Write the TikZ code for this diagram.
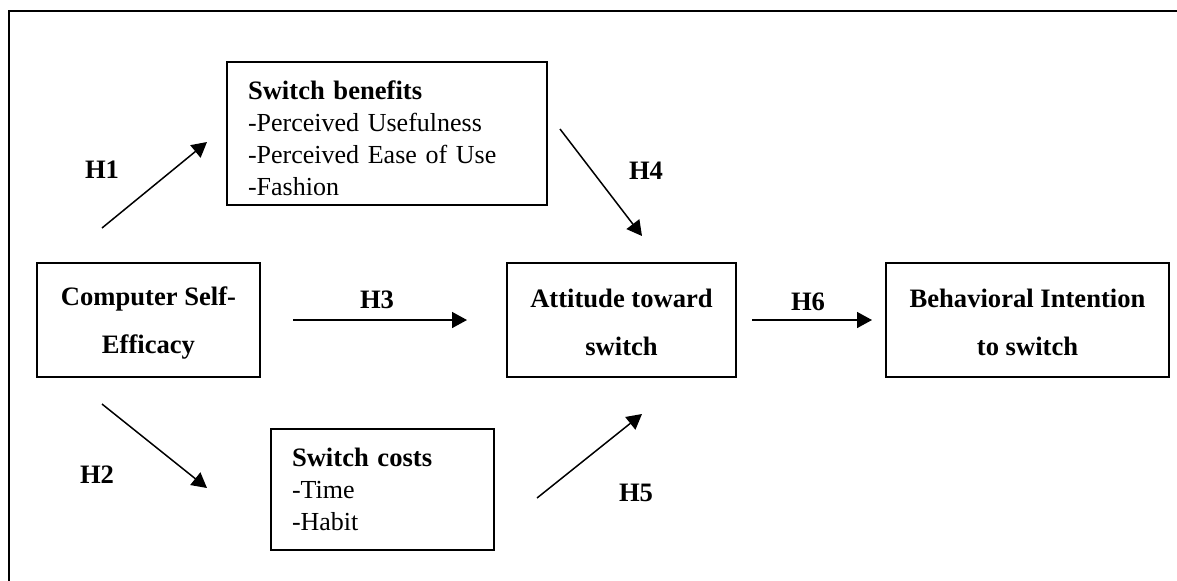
\documentclass[tikz,border=0pt]{standalone}
\usepackage{fontspec}
\setmainfont{Liberation Serif}
\usetikzlibrary{arrows.meta}
\tikzset{
  box/.style={draw, line width=0.75pt, inner sep=0pt, font=\fontsize{13.3}{24}\selectfont\bfseries, align=center},
  listbox/.style={draw, line width=0.75pt, inner xsep=10.5pt, inner ysep=0pt, font=\fontsize{13}{16}\selectfont, align=left},
  hyp/.style={font=\fontsize{13.3}{16}\selectfont\bfseries, inner sep=0pt},
  arr/.style={line width=0.75pt, -{Triangle[length=7.5pt,width=8pt]}}
}
\begin{document}
\begin{tikzpicture}[x=0.5pt,y=-0.5pt]
\useasboundingbox (0,0) rectangle (1177,580);
\draw[line width=1pt] (9,600) |- (1200,11);
% boxes
\node[listbox, text width=139pt, minimum height=71.5pt] (sb) at (387,133.5)
  {\rule{0pt}{14pt}\textbf{\fontsize{13.3}{16}\selectfont Switch benefits}\\-Perceived Usefulness\\-Perceived Ease of Use\\-Fashion};
\node[box, minimum width=111.5pt, minimum height=57pt] (cse) at (148.5,320) {\rule{0pt}{12pt}Computer Self-\\Efficacy};
\node[box, minimum width=114.5pt, minimum height=57pt] (att) at (621.5,320) {\rule{0pt}{12pt}Attitude toward\\switch};
\node[box, minimum width=141.5pt, minimum height=57pt] (bi) at (1027.5,320) {\rule{0pt}{12pt}Behavioral Intention\\to switch};
\node[listbox, text width=90.5pt, minimum height=60.5pt] (sc) at (382.5,489.5)
  {\textbf{\fontsize{13.3}{16}\selectfont Switch costs}\\-Time\\-Habit};
% arrow end points
\coordinate (h1s) at (102,228); \coordinate (h1e) at (207,142);
\coordinate (h2s) at (102,404); \coordinate (h2e) at (207,488);
\coordinate (h3s) at (293,320); \coordinate (h3e) at (467,320);
\coordinate (h4s) at (560,129); \coordinate (h4e) at (642,236);
\coordinate (h5s) at (537,498); \coordinate (h5e) at (642,414);
\coordinate (h6s) at (752,320); \coordinate (h6e) at (872,320);
\draw[arr] (h1s) -- (h1e);
\draw[arr] (h2s) -- (h2e);
\draw[arr] (h3s) -- (h3e);
\draw[arr] (h4s) -- (h4e);
\draw[arr] (h5s) -- (h5e);
\draw[arr] (h6s) -- (h6e);
% labels
\node[hyp] (l1) at (102,170) {H1};
\node[hyp] (l2) at (97,475) {H2};
\node[hyp] (l3) at (377,300) {H3};
\node[hyp] (l4) at (646,171) {H4};
\node[hyp] (l5) at (636,493) {H5};
\node[hyp] (l6) at (808,302) {H6};
\end{tikzpicture}
\end{document}
